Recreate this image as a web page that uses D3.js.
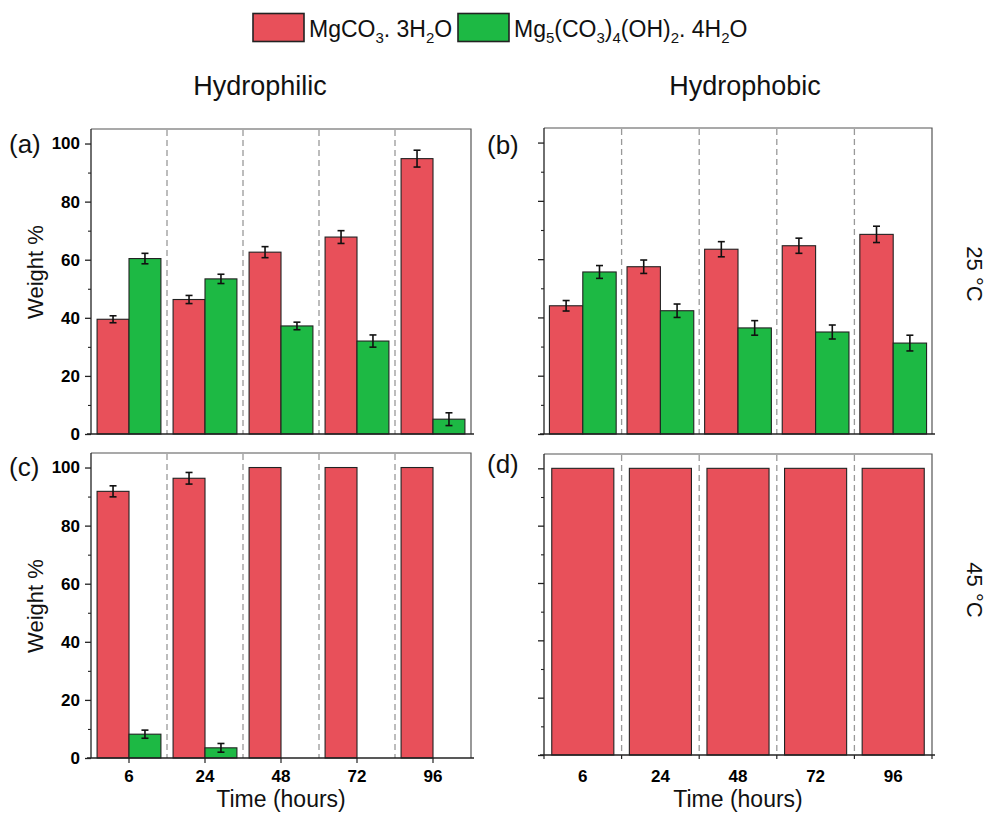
<!DOCTYPE html>
<html>
<head>
<meta charset="utf-8">
<script src="https://cdn.jsdelivr.net/npm/d3@7"></script>
<style>
  body { margin: 0; background: #fff; }
  svg { display: block; font-family: Arial, "Liberation Sans", sans-serif; }
</style>
</head>
<body>
<svg id="chart" width="998" height="814"></svg>
<script>
// ---------- data ----------
const categories = ["6", "24", "48", "72", "96"];
const yTicks = [0, 20, 40, 60, 80, 100];
const yMinorTicks = [10, 30, 50, 70, 90];

// (a) hydrophilic, 25 °C
const aMg = [39.5, 46.3, 62.6, 67.8, 94.8];
const aMgErr = [1.2, 1.4, 1.9, 2.2, 2.9];
const aHy = [60.4, 53.4, 37.2, 32.0, 5.1];
const aHyErr = [1.8, 1.6, 1.3, 2.1, 2.2];
// (b) hydrophobic, 25 °C
const bMg = [44.0, 57.4, 63.4, 64.6, 68.5];
const bMgErr = [1.8, 2.3, 2.6, 2.6, 2.8];
const bHy = [55.6, 42.3, 36.4, 35.0, 31.2];
const bHyErr = [2.2, 2.3, 2.5, 2.4, 2.7];
// (c) hydrophilic, 45 °C
const cMg = [91.8, 96.3, 100, 100, 100];
const cMgErr = [1.9, 2.0, 0, 0, 0];
const cHy = [8.2, 3.5, 0, 0, 0];
const cHyErr = [1.4, 1.5, 0, 0, 0];
// (d) hydrophobic, 45 °C
const dMg = [100, 100, 100, 100, 100];

const RED = "#E8505A";
const GREEN = "#1DB944";
const FONT = "Arial, 'Liberation Sans', sans-serif";

const svg = d3.select("#chart");

function panel(cfg) {
  const g = svg.append("g");
  const x = d3.scaleBand().domain(categories).range([cfg.x0, cfg.x1]).padding(0);
  const y = d3.scaleLinear().domain([0, 105]).range([cfg.y1, cfg.y0]);
  const bw = x.bandwidth();

  // dashed separators
  g.selectAll("line.sep").data(categories.slice(1)).enter().append("line")
    .attr("x1", d => x(d)).attr("x2", d => x(d))
    .attr("y1", cfg.y0 + 1).attr("y2", cfg.y1)
    .attr("stroke", "#999").attr("stroke-width", 1.3).attr("stroke-dasharray", "6,4");

  // bars
  const series = [];
  if (cfg.single) {
    const w = bw * 0.8;
    cfg.mg.forEach((v, i) => series.push({c: categories[i], v, e: 0, x: x(categories[i]) + (bw - w) / 2, w, col: RED}));
  } else {
    const w = bw * cfg.barFrac;
    cfg.mg.forEach((v, i) => series.push({c: categories[i], v, e: cfg.mgErr[i], x: x(categories[i]) + bw / 2 - w, w, col: RED}));
    cfg.hy.forEach((v, i) => series.push({c: categories[i], v, e: cfg.hyErr[i], x: x(categories[i]) + bw / 2, w, col: GREEN}));
  }
  const bars = series.filter(d => d.v > 0);
  g.selectAll("rect.bar").data(bars).enter().append("rect")
    .attr("x", d => d.x).attr("width", d => d.w)
    .attr("y", d => y(d.v)).attr("height", d => y(0) - y(d.v))
    .attr("fill", d => d.col).attr("stroke", "#222").attr("stroke-width", 1.1);

  // error bars
  const errs = bars.filter(d => d.e > 0);
  const eg = g.selectAll("g.err").data(errs).enter().append("g")
    .attr("stroke", "#111").attr("stroke-width", 1.6);
  eg.append("line").attr("x1", d => d.x + d.w / 2).attr("x2", d => d.x + d.w / 2)
    .attr("y1", d => y(d.v - d.e)).attr("y2", d => y(d.v + d.e));
  eg.append("line").attr("x1", d => d.x + d.w / 2 - 3.5).attr("x2", d => d.x + d.w / 2 + 3.5)
    .attr("y1", d => y(d.v + d.e)).attr("y2", d => y(d.v + d.e));
  eg.append("line").attr("x1", d => d.x + d.w / 2 - 3.5).attr("x2", d => d.x + d.w / 2 + 3.5)
    .attr("y1", d => y(d.v - d.e)).attr("y2", d => y(d.v - d.e));

  // frame (top/right)
  g.append("path")
    .attr("d", `M${cfg.x0},${cfg.y0}H${cfg.x1}V${cfg.y1}`)
    .attr("fill", "none").attr("stroke", "#555").attr("stroke-width", 1.2);

  // y axis
  const ya = d3.axisLeft(y).tickValues(yTicks).tickSize(6).tickSizeOuter(0)
    .tickFormat(cfg.yLabels ? d3.format("d") : () => "");
  const yg = g.append("g").attr("transform", `translate(${cfg.x0},0)`).call(ya)
    .attr("font-family", FONT).attr("font-size", 17);
  yg.select(".domain").attr("d", `M0,${cfg.y1}V${cfg.y0}`).attr("stroke", "#222").attr("stroke-width", 1.3);
  yg.selectAll(".tick line").attr("stroke", "#222").attr("stroke-width", 1.3);
  yg.selectAll(".tick text").attr("font-size", 17).attr("font-weight", "bold").attr("fill", "#000").attr("dx", "-2");
  const ym = d3.axisLeft(y).tickValues(yMinorTicks).tickSize(3).tickFormat(() => "");
  const ymg = g.append("g").attr("transform", `translate(${cfg.x0},0)`).call(ym);
  ymg.select(".domain").remove();
  ymg.selectAll(".tick line").attr("stroke", "#222").attr("stroke-width", 1.1);

  // x axis
  const xa = d3.axisBottom(x).tickSize(0).tickSizeOuter(0)
    .tickFormat(cfg.xLabels ? (d => d) : () => "");
  const xg = g.append("g").attr("transform", `translate(0,${cfg.y1})`).call(xa)
    .attr("font-family", FONT).attr("font-size", 17);
  xg.select(".domain").attr("d", `M${cfg.x0 - 4},0H${cfg.x1 + 3}`).attr("stroke", "#222").attr("stroke-width", 1.3);
  xg.selectAll(".tick text").attr("font-size", 17).attr("font-weight", "bold").attr("fill", "#000")
    .attr("y", 0).attr("dy", 0).attr("transform", `translate(0,${782 - cfg.y1})`);
  if (cfg.xTicks === "center") {
    xg.selectAll(".tick").append("line").attr("x1", 0).attr("x2", 0).attr("y1", 0).attr("y2", 5)
      .attr("stroke", "#222").attr("stroke-width", 1.2);
  } else if (cfg.xTicks === "edge") {
    const edges = categories.map(c => x(c)).concat([cfg.x1]);
    g.selectAll("line.xt").data(edges).enter().append("line")
      .attr("x1", d => d).attr("x2", d => d).attr("y1", cfg.y1).attr("y2", cfg.y1 + 4)
      .attr("stroke", "#222").attr("stroke-width", 1.2);
  }

  // panel label
  g.append("text").attr("x", cfg.labX).attr("y", cfg.labY).attr("font-size", 26).attr("fill", "#111").text(cfg.label);

  if (cfg.yTitle) {
    g.append("text").attr("transform", `translate(43,${cfg.yTitleY}) rotate(-90)`)
      .attr("text-anchor", "middle").attr("font-size", 22).attr("fill", "#111").text("Weight %");
  }
  if (cfg.xTitle) {
    g.append("text").attr("x", (cfg.x0 + cfg.x1) / 2).attr("y", 807)
      .attr("text-anchor", "middle").attr("font-size", 23).attr("fill", "#111").text("Time (hours)");
  }
}

panel({x0: 91, x1: 471, y0: 129, y1: 434, mg: aMg, mgErr: aMgErr, hy: aHy, hyErr: aHyErr, barFrac: 0.42,
  yLabels: true, xLabels: false, xTicks: "none", label: "(a)", labX: 9, labY: 153, yTitle: true, yTitleY: 272});
panel({x0: 544, x1: 932, y0: 128, y1: 434, mg: bMg, mgErr: bMgErr, hy: bHy, hyErr: bHyErr, barFrac: 0.43,
  yLabels: false, xLabels: false, xTicks: "none", label: "(b)", labX: 487, labY: 154});
panel({x0: 91, x1: 471, y0: 453, y1: 758, mg: cMg, mgErr: cMgErr, hy: cHy, hyErr: cHyErr, barFrac: 0.42,
  yLabels: true, xLabels: true, xTicks: "center", label: "(c)", labX: 9, labY: 476, yTitle: true, yTitleY: 606, xTitle: true});
panel({x0: 544, x1: 932, y0: 454, y1: 755, mg: dMg, single: true,
  yLabels: false, xLabels: true, xTicks: "edge", label: "(d)", labX: 487, labY: 473, xTitle: true});

// column titles
svg.append("text").attr("x", 260).attr("y", 95).attr("text-anchor", "middle").attr("font-size", 27).attr("fill", "#111").text("Hydrophilic");
svg.append("text").attr("x", 745).attr("y", 95).attr("text-anchor", "middle").attr("font-size", 27).attr("fill", "#111").text("Hydrophobic");

// row titles
svg.append("text").attr("transform", "translate(967,274) rotate(90)").attr("text-anchor", "middle")
  .attr("font-size", 22).attr("fill", "#111").text("25 °C");
svg.append("text").attr("transform", "translate(967,590) rotate(90)").attr("text-anchor", "middle")
  .attr("font-size", 22).attr("fill", "#111").text("45 °C");

// legend
const legend = [
  {col: RED, parts: [["MgCO", 0], ["3", 1], [". 3H", 0], ["2", 1], ["O", 0]], bx: 253, tx: 309},
  {col: GREEN, parts: [["Mg", 0], ["5", 1], ["(CO", 0], ["3", 1], [")", 0], ["4", 1], ["(OH)", 0], ["2", 1], [". 4H", 0], ["2", 1], ["O", 0]], bx: 458, tx: 514}
];
legend.forEach(L => {
  svg.append("rect").attr("x", L.bx).attr("y", 13.5).attr("width", 51).attr("height", 28)
    .attr("fill", L.col).attr("stroke", "#222").attr("stroke-width", 1.6);
  const t = svg.append("text").attr("x", L.tx).attr("y", 37).attr("font-size", 23).attr("fill", "#111");
  let prev = 0;
  L.parts.forEach(([s, sub]) => {
    const dy = (sub - prev) * 6;
    t.append("tspan").attr("dy", dy).attr("font-size", sub ? 15 : 23).text(s);
    prev = sub;
  });
});
</script>
</body>
</html>
